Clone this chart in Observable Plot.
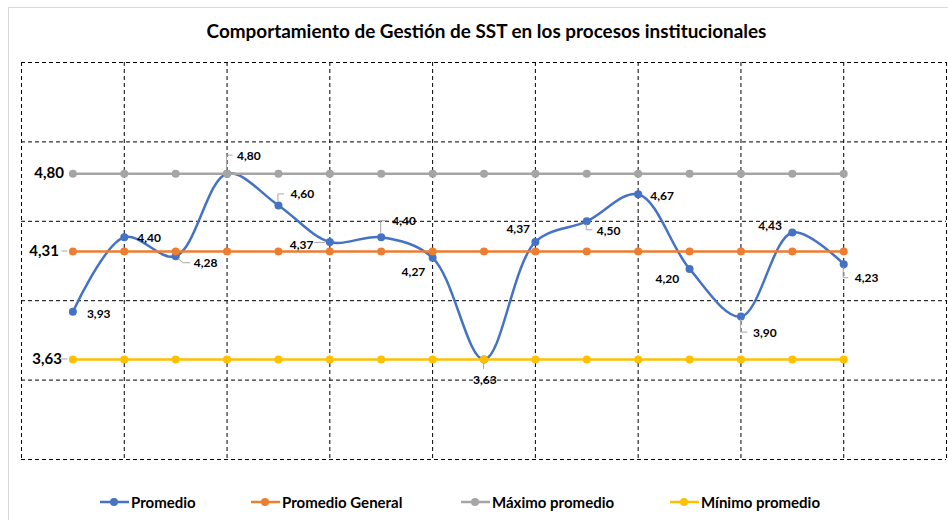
<!DOCTYPE html>
<html>
<head>
<meta charset="utf-8">
<script src="https://cdn.jsdelivr.net/npm/d3@7"></script>
<script src="https://cdn.jsdelivr.net/npm/@observablehq/plot@0.6"></script>
<style>
  html, body { margin: 0; padding: 0; background: #fff; }
  body { width: 948px; height: 520px; position: relative; overflow: hidden; font-family: Lato, "Open Sans", sans-serif; }
  #frame { position: absolute; left: 8px; top: 7px; width: 960px; height: 540px; border: 1px solid #d9d9d9; box-sizing: border-box; }
  #title { position: absolute; left: 0; top: 18px; width: 973px; text-align: center; font-weight: 700; font-size: 18.9px; line-height: 25px; color: #000; }
  #chart { position: absolute; left: 0; top: 0; }
  #legend { position: absolute; left: 0; top: 492px; width: 948px; height: 20px; }
  .item { position: absolute; top: 0; display: flex; align-items: center; font-weight: 700; font-size: 15px; color: #000; height: 20px; }
  .item svg { margin-right: 2px; }
</style>
</head>
<body>
<div id="frame"></div>
<div id="title">Comportamiento de Gestión de SST en los procesos institucionales</div>
<div id="chart"></div>
<div id="legend"></div>
<script>
// ---- data ----
const procesos = [0, 1, 2, 3, 4, 5, 6, 7, 8, 9, 10, 11, 12, 13, 14, 15];
const promedio = [3.93, 4.40, 4.28, 4.80, 4.60, 4.37, 4.40, 4.27, 3.63, 4.37, 4.50, 4.67, 4.20, 3.90, 4.43, 4.23];
const promedioGeneral = [4.31, 4.31, 4.31, 4.31, 4.31, 4.31, 4.31, 4.31, 4.31, 4.31, 4.31, 4.31, 4.31, 4.31, 4.31, 4.31];
const maximoPromedio = [4.80, 4.80, 4.80, 4.80, 4.80, 4.80, 4.80, 4.80, 4.80, 4.80, 4.80, 4.80, 4.80, 4.80, 4.80, 4.80];
const minimoPromedio = [3.63, 3.63, 3.63, 3.63, 3.63, 3.63, 3.63, 3.63, 3.63, 3.63, 3.63, 3.63, 3.63, 3.63, 3.63, 3.63];
const seriesNames = ["Promedio", "Promedio General", "Máximo promedio", "Mínimo promedio"];
const xGridTicks = [-1, 1, 3, 5, 7, 9, 11, 13, 15, 17];
const yGridTicks = [3, 3.5, 4, 4.5, 5, 5.5];

// ---- layout / style (not data) ----
const colors = ["#4472C4", "#ED7D31", "#A5A5A5", "#FFC000"];
const labelDx = [14, 13, 18, 10, 12, -40, 11, -31, -11, -29, 10, 12, -34, 12, -34, 11];
const labelDy = [2, 1, 7, -18, -11, 3, -16, 14, 21, -13, 10, 2, 10, 17, -6, 14];
const leaderPaths = [
  [2, [[3, 3], [8, 7], [15, 7]]],
  [3, [[0, -4], [0, -18], [6, -18]]],
  [4, [[0, -4], [0, -11], [6, -11]]],
  [5, [[-4, 1], [-15, 1]]],
  [6, [[0, -4], [0, -16], [6, -16]]],
  [8, [[0, 4], [0, 10]]],
  [10, [[0, 3], [0, 9], [6, 9]]],
  [13, [[0, 3], [0, 16], [7, 16]]],
  [15, [[0, 3], [0, 14], [5, 14]]]
];
const fmt = v => v.toFixed(2).replace(".", ",");

const rows = (arr) => procesos.map(i => ({x: i, y: arr[i]}));
const allSeries = [promedio, promedioGeneral, maximoPromedio, minimoPromedio];

const marks = [
  Plot.ruleX(xGridTicks, {x: d => d, stroke: "#000", strokeWidth: 1, strokeDasharray: "4,3"}),
  Plot.ruleY(yGridTicks, {y: d => d, stroke: "#000", strokeWidth: 1, strokeDasharray: "4,3"})
];
allSeries.forEach((arr, k) => {
  marks.push(Plot.line(rows(arr), {x: "x", y: "y", stroke: colors[k], strokeWidth: 2.5,
    curve: k === 0 ? "catmull-rom" : "linear"}));
  marks.push(Plot.dot(rows(arr), {x: "x", y: "y", r: 4, fill: colors[k], stroke: "none"}));
});
// data labels for Promedio
procesos.forEach(i => {
  marks.push(Plot.text([i], {x: d => d, y: d => promedio[d], text: d => fmt(promedio[d]),
    dx: labelDx[i], dy: labelDy[i], textAnchor: "start", fontSize: 12, fontWeight: 700,
    fontFamily: "Lato, sans-serif", fill: "#000"}));
});
// reference line labels at first point
[[maximoPromedio, -9], [promedioGeneral, -14], [minimoPromedio, -11]].forEach(([arr, dx]) => {
  marks.push(Plot.text([0], {x: d => d, y: d => arr[d], text: d => fmt(arr[d]), dx: dx,
    textAnchor: "end", fontSize: 15, fontWeight: 700, fontFamily: "Lato, sans-serif", fill: "#000"}));
});

const plot = Plot.plot({
  width: 948,
  height: 470,
  marginTop: 62,
  marginBottom: 11,
  marginLeft: 21,
  marginRight: 2,
  x: {domain: [-1, 17], axis: null},
  y: {domain: [3, 5.5], axis: null},
  style: {background: "transparent", overflow: "visible"},
  marks
});

// leader lines (data-label callouts), positioned through the plot's scales
const sx = plot.scale("x"), sy = plot.scale("y");
const svg = d3.select(plot);
const g = svg.append("g").attr("fill", "none").attr("stroke", "#a6a6a6").attr("stroke-width", 1);
leaderPaths.forEach(([i, pts]) => {
  const x0 = sx.apply(i), y0 = sy.apply(promedio[i]);
  g.append("polyline").attr("points", pts.map(([dx, dy]) => `${x0 + dx},${y0 + dy}`).join(" "));
});
[[promedioGeneral], [minimoPromedio]].forEach(([arr]) => {
  const x0 = sx.apply(0), y0 = sy.apply(arr[0]);
  g.append("line").attr("x1", x0 - 11).attr("x2", x0 - 5).attr("y1", y0).attr("y2", y0);
});

document.getElementById("chart").appendChild(plot);

// legend
const legendLeft = [100, 251, 461, 670];
const legend = document.getElementById("legend");
seriesNames.forEach((name, k) => {
  const div = document.createElement("div");
  div.className = "item";
  div.style.left = legendLeft[k] + "px";
  div.innerHTML = `<svg width="29" height="10"><line x1="0" x2="29" y1="5" y2="5" stroke="${colors[k]}" stroke-width="2.5"/><circle cx="14" cy="5" r="4" fill="${colors[k]}"/></svg><span>${name}</span>`;
  legend.appendChild(div);
});
</script>
</body>
</html>
